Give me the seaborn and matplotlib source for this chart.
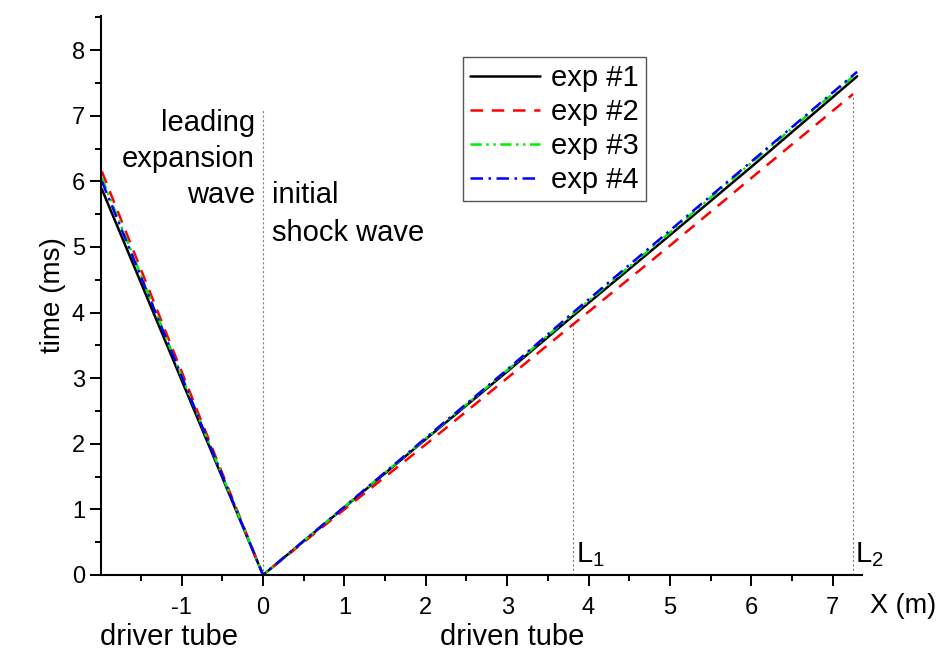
import pandas as pd
import seaborn as sns
import matplotlib.pyplot as plt

# x positions (m) of the measured points, per experiment (driver end, 0, driven tube)
exp_names = ['exp #1', 'exp #2', 'exp #3', 'exp #4']
x_exp1 = [-1.98, -1.0, 0.0, 1.0, 2.0, 3.0, 3.81, 5.0, 6.0, 7.3]
t_exp1 = [5.88, 2.97, 0.0, 1.03, 2.07, 3.1, 3.95, 5.18, 6.22, 7.6]
x_exp2 = [-1.98, -1.0, 0.0, 1.0, 2.0, 3.0, 3.81, 5.0, 6.0, 7.25]
t_exp2 = [6.15, 3.1, 0.0, 1.0, 1.99, 3.0, 3.82, 5.02, 6.05, 7.33]
x_exp3 = [-1.98, -1.0, 0.0, 1.0, 2.0, 3.0, 3.81, 5.0, 6.0, 7.3]
t_exp3 = [6.05, 3.03, 0.0, 1.04, 2.08, 3.12, 3.98, 5.22, 6.28, 7.65]
x_exp4 = [-1.98, -1.0, 0.0, 1.0, 2.0, 3.0, 3.81, 5.0, 6.0, 7.3]
t_exp4 = [6.0, 3.03, 0.0, 1.04, 2.09, 3.13, 4.0, 5.25, 6.3, 7.67]

L1 = 3.81
L2 = 7.25

frames = []
for name, xs, ts in zip(exp_names, [x_exp1, x_exp2, x_exp3, x_exp4],
                        [t_exp1, t_exp2, t_exp3, t_exp4]):
    frames.append(pd.DataFrame({'X': xs, 'time': ts, 'exp': name}))
df = pd.concat(frames, ignore_index=True)

sns.set_style('ticks')
plt.rcParams['font.family'] = ['Liberation Sans', 'DejaVu Sans']
plt.rcParams['axes.unicode_minus'] = False
plt.rcParams['axes.edgecolor'] = 'black'
plt.rcParams['xtick.color'] = 'black'
plt.rcParams['ytick.color'] = 'black'
plt.rcParams['text.color'] = 'black'
plt.rcParams['axes.labelcolor'] = 'black'

fig = plt.figure(figsize=(9.39, 6.5), dpi=100)
ax = fig.add_axes([0.1076, 0.1154, 0.8104, 0.86])

palette = {'exp #1': '#000000', 'exp #2': '#ff0000', 'exp #3': '#00ee00', 'exp #4': '#0000ff'}
dashes = {'exp #1': '', 'exp #2': (5, 3.5), 'exp #3': (4.5, 1.8, 1, 1.8, 1, 1.8), 'exp #4': (5, 2.2, 1, 2.2)}

# guide lines
ax.plot([0, 0], [0, 7.1], ls=(0, (2, 2)), color='gray', lw=0.8, zorder=1)
ax.plot([L1, L1], [0, 3.85], ls=(0, (2, 2)), color='gray', lw=0.8, zorder=1)
ax.plot([L2, L2], [0, 7.3], ls=(0, (2, 2)), color='gray', lw=0.8, zorder=1)

sns.lineplot(data=df, x='X', y='time', hue='exp', style='exp', palette=palette,
             dashes=dashes, lw=1.8, estimator=None, sort=False, ax=ax)

ax.set_xticks(range(-1, 8))
ax.set_yticks(range(0, 9))
ax.set_xticks([x + 0.5 for x in range(-2, 7)], minor=True)
ax.set_yticks([y + 0.5 for y in range(0, 9)], minor=True)
ax.set_xlim(-1.99, 7.36)
ax.set_ylim(0, 8.52)
ax.tick_params(which='major', length=8, width=1.4, labelsize=17, direction='out')
ax.tick_params(axis='x', which='major', pad=8)
ax.tick_params(which='minor', length=4.5, width=1.4, direction='out')
sns.despine(ax=ax)
for s in ['left', 'bottom']:
    ax.spines[s].set_linewidth(1.5)

ax.set_xlabel('')
ax.set_ylabel('time (ms)', fontsize=20, labelpad=4)

ax.legend(title=None, loc='upper left', bbox_to_anchor=(0.4757, 0.9267), fontsize=21,
          handlelength=2.4, fancybox=False, edgecolor='#555555', framealpha=1,
          borderpad=0.25, labelspacing=0.2, handletextpad=0.35, borderaxespad=0)

txt = dict(fontsize=21, color='black', va='baseline')
for line, yb in zip(['leading', 'expansion', 'wave'], [6.77, 6.22, 5.67]):
    ax.text(-0.1, yb, line, ha='right', **txt)
for line, yb in zip(['initial', 'shock wave'], [5.67, 5.09]):
    ax.text(0.11, yb, line, ha='left', **txt)
ax.text(L1 + 0.04, 0.2, r'L$_\mathregular{1}$', ha='left', **txt)
ax.text(L2 + 0.03, 0.2, r'L$_\mathregular{2}$', ha='left', **txt)
fig.text(0.927, 0.057, 'X (m)', ha='left', fontsize=19.5, va='baseline')
fig.text(0.107, 0.008, 'driver tube', ha='left', **txt)
fig.text(0.545, 0.008, 'driven tube', ha='center', **txt)

fig.savefig('out.png', dpi=100)
